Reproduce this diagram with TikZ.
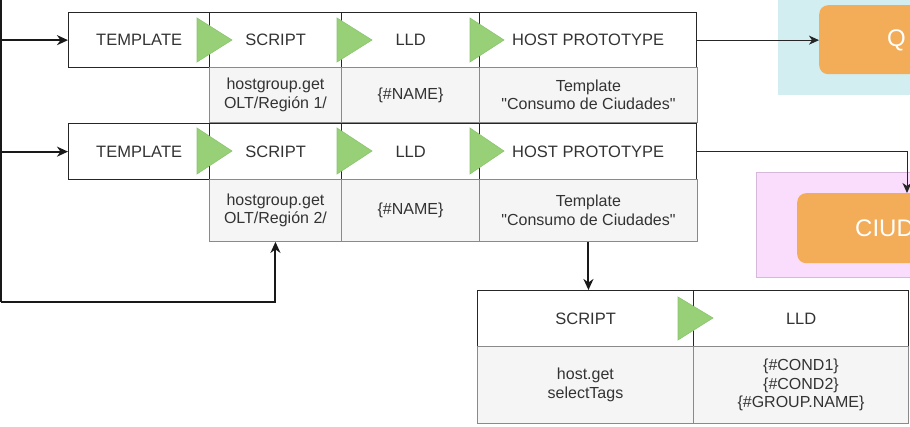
\documentclass[tikz,border=0pt]{standalone}
\usepackage{fontspec}
\setmainfont{Liberation Sans}[Ligatures=TeXOff]
\usetikzlibrary{calc,arrows.meta}
\definecolor{txt}{HTML}{333333}
\definecolor{grayfill}{HTML}{F5F5F5}
\definecolor{graystroke}{HTML}{8A8A8A}
\definecolor{greenfill}{HTML}{97D077}
\definecolor{greenstroke}{HTML}{8CC471}
\definecolor{cyanbg}{HTML}{D2EEF0}
\definecolor{pinkbg}{HTML}{FADCFC}
\definecolor{pinkline}{HTML}{D6B8DA}
\definecolor{orangebox}{HTML}{F3AC58}
\begin{document}
\begin{tikzpicture}[x=1pt,y=-1pt,
  topcell/.style={draw=black!85, line width=1.3pt, anchor=north west, inner sep=0pt,
    text=txt, font=\fontsize{16.5}{18.5}\selectfont, align=center},
  graycell/.style={draw=graystroke, line width=0.9pt, fill=grayfill, anchor=north west, inner sep=0pt,
    text=txt, font=\fontsize{16}{18.5}\selectfont, align=center},
  bigbox/.style={fill=orangebox, rounded corners=9pt, anchor=north west, inner sep=0pt},
  bigtext/.style={text=white, font=\fontsize{24}{28}\selectfont, anchor=west, inner sep=0pt},
  gtri/.style={fill=greenfill, draw=greenstroke, line width=0.6pt},
  bigarrow/.style={draw=black!90, line width=2pt, -{Stealth[length=11pt,width=10pt,inset=3.5pt]}},
  smallarrow/.style={draw=black!85, line width=1pt, -{Stealth[length=10pt,width=9pt,inset=3pt]}}
]
\useasboundingbox (0,0) rectangle (910,427);
\clip (0,0) rectangle (910,427);

% coloured backgrounds on the right
\fill[cyanbg] (778,-5) rectangle (915,95);
\filldraw[fill=pinkbg, draw=pinkline, line width=0.8pt] (756,172) rectangle (915,277);
\node[bigbox, minimum width=140pt, minimum height=69pt] (qbox) at (819,5) {};
\node[bigtext] (qtext) at (887,40) {Q};
\node[bigbox, minimum width=140pt, minimum height=70pt] (cbox) at (797,193) {};
\node[bigtext] (ctext) at (855,228) {CIUD};

% row 1
\node[topcell, minimum width=141pt, minimum height=55pt] (t1) at (68,12) {TEMPLATE};
\node[topcell, minimum width=132pt, minimum height=55pt] (s1) at (209,12) {SCRIPT};
\node[topcell, minimum width=138pt, minimum height=55pt] (l1) at (341,12) {LLD};
\node[topcell, minimum width=217pt, minimum height=55pt] (h1) at (479,12) {HOST PROTOTYPE};
\node[graycell, minimum width=132pt, minimum height=55pt] (gs1) at (209,67) {hostgroup.get\\OLT/Región 1/};
\node[graycell, minimum width=138pt, minimum height=55pt] (gl1) at (341,67) {\{\#NAME\}};
\node[graycell, minimum width=218pt, minimum height=55pt] (gh1) at (479,67) {Template\\"Consumo de Ciudades"};

% row 2
\node[topcell, minimum width=141pt, minimum height=56pt] (t2) at (68,123) {TEMPLATE};
\node[topcell, minimum width=132pt, minimum height=56pt] (s2) at (209,123) {SCRIPT};
\node[topcell, minimum width=138pt, minimum height=56pt] (l2) at (341,123) {LLD};
\node[topcell, minimum width=217pt, minimum height=56pt] (h2) at (479,123) {HOST PROTOTYPE};
\node[graycell, minimum width=132pt, minimum height=62pt] (gs2) at (209,179) {hostgroup.get\\OLT/Región 2/};
\node[graycell, minimum width=138pt, minimum height=62pt] (gl2) at (341,179) {\{\#NAME\}};
\node[graycell, minimum width=218pt, minimum height=62pt] (gh2) at (479,179) {Template\\"Consumo de Ciudades"};

% bottom group
\node[topcell, minimum width=216pt, minimum height=56pt] (bs) at (477,290) {SCRIPT};
\node[topcell, minimum width=215pt, minimum height=56pt] (bl) at (693,290) {LLD};
\node[graycell, minimum width=216pt, minimum height=77pt] (gbs) at (477,346) {host.get\\selectTags};
\node[graycell, minimum width=215pt, minimum height=77pt] (gbl) at (693,346) {\{\#COND1\}\\\{\#COND2\}\\\{\#GROUP.NAME\}};

% green triangles
\filldraw[gtri] (197,18) -- (232,40) -- (197,62) -- cycle;
\filldraw[gtri] (337,18) -- (372,40) -- (337,62) -- cycle;
\filldraw[gtri] (470,18) -- (504,40) -- (470,62) -- cycle;
\filldraw[gtri] (197,128) -- (232,151) -- (197,174) -- cycle;
\filldraw[gtri] (337,128) -- (372,151) -- (337,174) -- cycle;
\filldraw[gtri] (470,128) -- (504,151) -- (470,174) -- cycle;
\filldraw[gtri] (678,297) -- (713,318) -- (678,340) -- cycle;

% connectors
\coordinate (ltop) at (1,0);
\coordinate (lbot) at (1,302);
\draw[draw=black!90, line width=2pt] (ltop) -- (lbot);
\draw[bigarrow] (ltop |- t1.west) -- (t1.west);
\draw[bigarrow] (ltop |- t2.west) -- (t2.west);
\draw[bigarrow] (lbot) -| (gs2.south);
\draw[bigarrow] (gh2.south) -- (gh2.south |- bs.north);
\draw[smallarrow] (h1.east) -- (h1.east -| qbox.west);
\coordinate (cdrop) at ($(cbox.north west)+(110,0)$);
\draw[smallarrow] (h2.east) -| (cdrop);
\end{tikzpicture}
\end{document}
